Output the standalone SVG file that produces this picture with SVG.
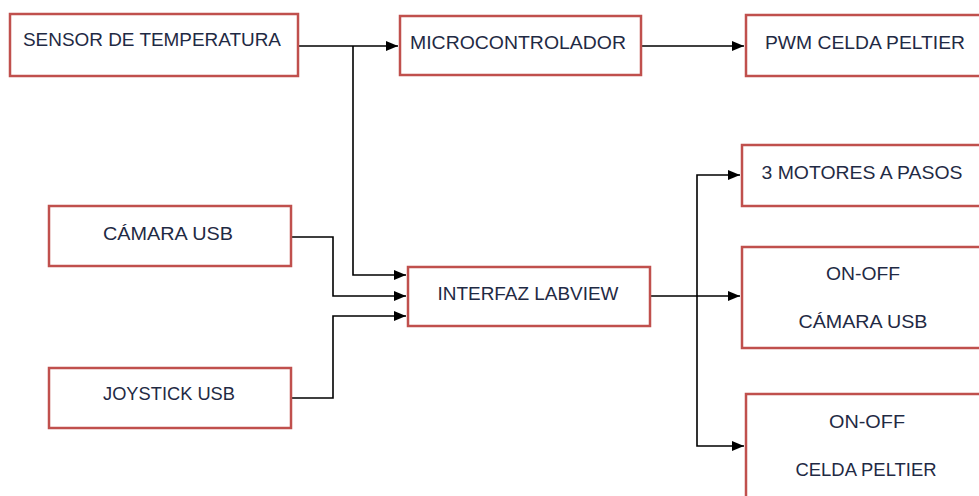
<svg xmlns="http://www.w3.org/2000/svg" width="979" height="496" viewBox="0 0 979 496">
<style>
.box{fill:#fff;stroke:#c0504d;stroke-width:2.5}
.t{font-family:"Liberation Sans",Arial,sans-serif;font-size:18.5px;fill:#1f2a44;text-anchor:middle}
.c{fill:none;stroke:#000;stroke-width:1.6}
</style>
<defs>
<marker id="ah" markerWidth="12" markerHeight="10" refX="12" refY="5" orient="auto" markerUnits="userSpaceOnUse">
<path d="M0,0 L12,5 L0,10 Z" fill="#000"/>
</marker>
</defs>
<rect width="979" height="496" fill="#fff"/>
<g id="connectors">
<path class="c" d="M298,46 H398" marker-end="url(#ah)"/>
<path class="c" d="M353,46 V275 H406" marker-end="url(#ah)"/>
<path class="c" d="M641,46 H744" marker-end="url(#ah)"/>
<path class="c" d="M291,237 H333 V296 H406" marker-end="url(#ah)"/>
<path class="c" d="M291,398 H333 V316 H406" marker-end="url(#ah)"/>
<path class="c" d="M650,296 H740" marker-end="url(#ah)"/>
<path class="c" d="M697,296 V175 H740" marker-end="url(#ah)"/>
<path class="c" d="M697,296 V446 H744" marker-end="url(#ah)"/>
</g>
<g id="sensor"><rect class="box" x="10" y="14" width="288" height="62"/><text class="t" x="152" y="46" textLength="258" lengthAdjust="spacingAndGlyphs">SENSOR DE TEMPERATURA</text></g>
<g id="micro"><rect class="box" x="400" y="16" width="241" height="59"/><text class="t" x="518" y="49" textLength="216" lengthAdjust="spacingAndGlyphs">MICROCONTROLADOR</text></g>
<g id="pwm"><rect class="box" x="746" y="15" width="240" height="61"/><text class="t" x="865" y="49" textLength="200" lengthAdjust="spacingAndGlyphs">PWM CELDA PELTIER</text></g>
<g id="camara"><rect class="box" x="49" y="206" width="242" height="60"/><text class="t" x="168" y="240" textLength="130" lengthAdjust="spacingAndGlyphs">CÁMARA USB</text></g>
<g id="joystick"><rect class="box" x="49" y="368" width="242" height="60"/><text class="t" x="169" y="400" textLength="132" lengthAdjust="spacingAndGlyphs">JOYSTICK USB</text></g>
<g id="labview"><rect class="box" x="408" y="267" width="242" height="59"/><text class="t" x="528" y="300" textLength="181" lengthAdjust="spacingAndGlyphs">INTERFAZ LABVIEW</text></g>
<g id="motores"><rect class="box" x="742" y="145" width="244" height="61"/><text class="t" x="862" y="179" textLength="201" lengthAdjust="spacingAndGlyphs">3 MOTORES A PASOS</text></g>
<g id="onoffcam"><rect class="box" x="742" y="247" width="244" height="101"/><text class="t" x="863" y="280" textLength="74" lengthAdjust="spacingAndGlyphs">ON-OFF</text><text class="t" x="863" y="328" textLength="129" lengthAdjust="spacingAndGlyphs">CÁMARA USB</text></g>
<g id="onoffpel"><rect class="box" x="746" y="394" width="240" height="110"/><text class="t" x="867" y="428" textLength="76" lengthAdjust="spacingAndGlyphs">ON-OFF</text><text class="t" x="866" y="476" textLength="141" lengthAdjust="spacingAndGlyphs">CELDA PELTIER</text></g>
</svg>
